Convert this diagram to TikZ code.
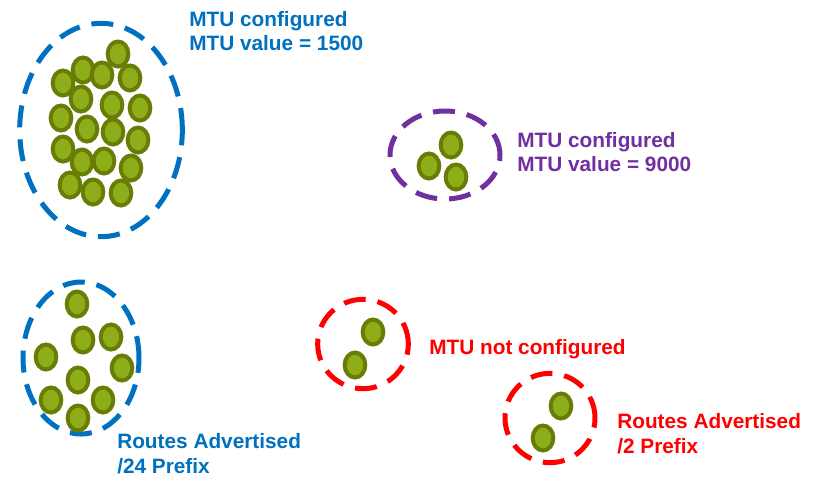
\documentclass[tikz,border=0pt]{standalone}
\usepackage{fontspec}
\setmainfont{Liberation Sans}
\usetikzlibrary{shapes.geometric}
\definecolor{ciscoblue}{HTML}{0070C0}
\definecolor{grpurple}{HTML}{7030A0}
\definecolor{grred}{HTML}{FF0000}
\definecolor{dotedge}{HTML}{687C06}
\definecolor{dotfill}{HTML}{8DAE18}
\tikzset{
  host/.style={ellipse, draw=dotedge, fill=dotfill, line width=3pt,
    minimum width=15.5pt, minimum height=18.75pt, inner sep=0pt},
  group/.style={ellipse, draw=#1, line width=3.75pt,
    dash pattern=on 16.5pt off 9pt, inner sep=0pt},
  label/.style={anchor=base west, inner sep=0pt, text=#1,
    font=\fontsize{15.6pt}{18pt}\selectfont\bfseries},
}
\begin{document}
\begin{tikzpicture}[x=0.75pt,y=-0.75pt]
\useasboundingbox (0,0) rectangle (817,476);

% large group, MTU 1500
\node[group=ciscoblue, minimum width=122pt, minimum height=160pt] (g1) at (101,130) {};
\foreach \p/\q [count=\i] in {118/54, 83/70, 102/75, 130/78, 63/83, 81/99, 112/105,
    140/108, 61/118, 87/129, 113/132, 138/140, 63/149, 82/162, 104/161, 131/168,
    70/185, 93/192, 121/193}
  \node[host] (a\i) at (\p,\q) {};
\node[label=ciscoblue] (t1a) at (189,26) {MTU configured};
\node[label=ciscoblue] (t1b) at (189,50) {MTU value = 1500};

% group, MTU 9000
\node[group=grpurple, minimum width=82.5pt, minimum height=66pt] (g2) at (445,155) {};
\node[host] (b1) at (451,145) {};
\node[host] (b2) at (429,166) {};
\node[host] (b3) at (456,177) {};
\node[label=grpurple] (t2a) at (517,147) {MTU configured};
\node[label=grpurple] (t2b) at (517,171) {MTU value = 9000};

% group, /24 prefix
\node[group=ciscoblue, minimum width=87pt, minimum height=114pt] (g3) at (81,358) {};
\foreach \p/\q [count=\i] in {77/304, 83/340, 111/337, 46/357, 122/368, 78/380,
    51/400, 103/400, 78/418}
  \node[host] (c\i) at (\p,\q) {};
\node[label=ciscoblue] (t3a) at (117,448) {Routes Advertised};
\node[label=ciscoblue] (t3b) at (117,473) {/24 Prefix};

% group, MTU not configured
\node[group=grred, minimum width=68pt, minimum height=67pt] (g4) at (363,344) {};
\node[host] (d1) at (373,332) {};
\node[host] (d2) at (355,365) {};
\node[label=grred] (t4) at (429,354) {MTU not configured};

% group, /2 prefix
\node[group=grred, minimum width=67.5pt, minimum height=67pt] (g5) at (550,418) {};
\node[host] (e1) at (561,406) {};
\node[host] (e2) at (543,438) {};
\node[label=grred] (t5a) at (617,428) {Routes Advertised};
\node[label=grred] (t5b) at (617,453) {/2 Prefix};
\end{tikzpicture}
\end{document}
